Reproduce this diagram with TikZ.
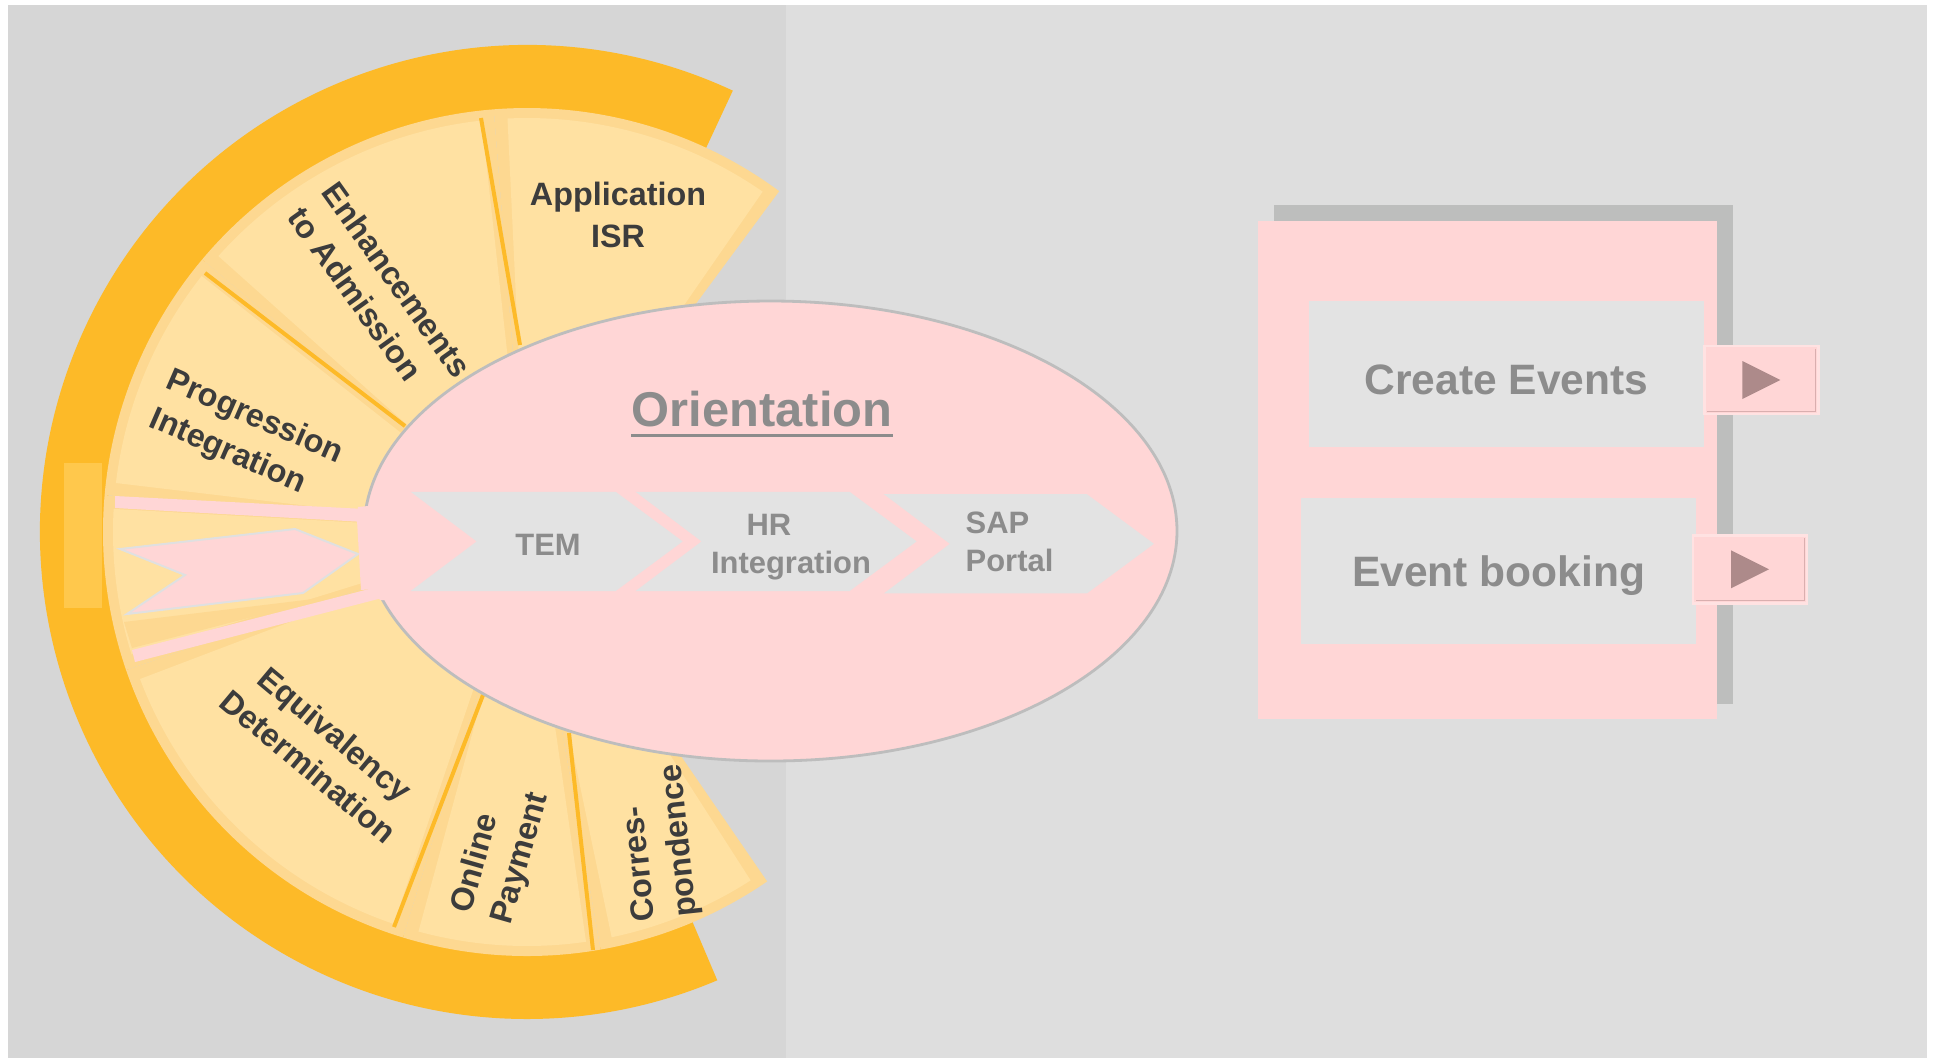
\documentclass[tikz,border=0pt]{standalone}
\usepackage{fontspec}
\setmainfont{Liberation Sans}

\definecolor{ringorange}{HTML}{FDBA28}
\definecolor{ringlight}{HTML}{FFC84C}
\definecolor{wedgeedge}{HTML}{FDD891}
\definecolor{wedgefill}{HTML}{FFE1A2}
\definecolor{rosefill}{HTML}{FFD6D6}
\definecolor{flagrim}{HTML}{E0E0E0}
\definecolor{chevgray}{HTML}{E3E3E3}
\definecolor{textgray}{HTML}{8C8C8C}
\definecolor{textdark}{HTML}{3C3C3C}
\definecolor{bgleft}{HTML}{D6D6D6}
\definecolor{bgright}{HTML}{DEDEDE}
\definecolor{shadowgray}{HTML}{BDBEBD}
\definecolor{rimgray}{HTML}{BDBDBD}
\definecolor{btnlight}{HTML}{FFE2E2}
\definecolor{btndark}{HTML}{D9AFAF}
\definecolor{tipbrown}{HTML}{AD8A8A}

\begin{document}
\begin{tikzpicture}[x=0.1mm, y=0.1mm,
        wedgelabel/.style = {text = textdark, font = \bfseries\fontsize{9.2}{12}\selectfont, inner sep = 0pt},
        chevlabel/.style = {text = textgray, font = \bfseries\fontsize{8.8}{11}\selectfont, inner sep = 0pt},
        seam/.style = {draw = ringorange, line width = 0.4mm},
        chev/.style = {fill = chevgray},
        flag/.style = {fill = rosefill, draw = flagrim, line width = 0.2mm},
        oval/.style = {fill = rosefill, draw = rimgray, line width = 0.28mm},
        evbox/.style = {fill = chevgray, minimum width = 39.5mm, minimum height = 14.6mm, inner sep = 0pt,
                        text height = 3.1mm, text depth = 0pt,
                        text = textgray, font = \bfseries\fontsize{12.1}{14}\selectfont},
        btn/.style = {fill = rosefill, draw = btnlight, line width = 0.25mm, minimum width = 11.4mm,
                      minimum height = 6.8mm, inner sep = 0pt},
        btnrim/.style = {draw = btndark, line width = 0.12mm},
        tip/.style = {fill = tipbrown}]
    \useasboundingbox (0,0) rectangle (1937,-1060);

    % background panels
    \fill[white] (0,0) rectangle (1937,-1060);
    \fill[bgleft] (8,-5) rectangle (786,-1058);
    \fill[bgright] (786,-5) rectangle (1927,-1058);

    % outer ring
    \coordinate (hub) at (527,-532);
    \fill[ringorange] (hub) ++(65:487) arc[start angle = 65, end angle = 293, radius = 487]
        -- ++(113:67) arc[start angle = 293, end angle = 65, radius = 420] -- cycle;
    \fill[ringlight] (64,-463) rectangle (102,-608);

    % wedges of the wheel
    \foreach \a/\b in {53.5/94.5, 94.5/140, 140/175, 175/199, 199/253, 253/280, 280/304.5} {
        \fill[wedgeedge] (hub) -- ++(\a:424) arc[start angle = \a, end angle = \b, radius = 424] -- cycle;
        \fill[wedgefill] (hub) -- ++({\a + 1.8}:414) arc[start angle = \a + 1.8, end angle = \b - 1.8, radius = 414] -- cycle;
    }
    \fill[wedgeedge] (124,-622) -- (330,-597) -- (132,-648) -- cycle;

    % seams between wedges
    \draw[seam] (481,-118) -- (520,-345);
    \draw[seam] (205,-273) -- (405,-426);
    \draw[seam] (483,-695) -- (394,-927);
    \draw[seam] (569,-733) -- (593,-950);

    % highlighted orientation segment
    \fill[rosefill] (115,-496) -- (365,-509) -- (365,-522) -- (115,-508) -- cycle;
    \fill[rosefill] (132,-650) -- (373,-588) -- (382,-598) -- (135,-662) -- cycle;
    \filldraw[flag] (120,-549) -- (295,-529) -- (358,-554) -- (303,-593) -- (127,-614) -- (185,-575) -- cycle;

    % orientation ellipse
    \filldraw[oval] (770.5,-531) ellipse[x radius = 406.5, y radius = 230];
    \fill[rosefill] (357,-520) -- (358,-507) -- (378,-505) -- (392,-600) -- (380,-600) -- (373,-589) -- (361,-590) -- cycle;

    \node[text = textgray, font = \bfseries\fontsize{13.9}{16}\selectfont, inner sep = 0pt] (orient) at (762,-409) {Orientation};
    \draw[textgray, line width = 0.3mm] ([yshift = -0.8mm]orient.south west) -- ([yshift = -0.8mm]orient.south east);

    \foreach \x/\w/\y in {410.7/205/541.4, 635.6/214/541.4, 883.9/203/543.8} {
        \fill[chev] (\x,-\y) ++(0,49.6) -- ++(\w,0) -- ++(67,-49.6) -- ++(-67,-49.6) -- ++(-\w,0) -- ++(66,49.6) -- cycle;
    }
    \node[chevlabel] (temText) at (548,-545) {TEM};
    \node[chevlabel, align = center] (hrText) at (791,-547) {HR\kern4.4mm\\Integration};
    \node[chevlabel, align = left, anchor = west] (sapText) at (965,-542) {SAP\\Portal};

    % wedge labels
    \node[wedgelabel, align = center] (appText) at (618,-215) {Application\\ISR};
    \node[wedgelabel, align = left, rotate = -54.5] (enhText) at (380,-292) {Enhancements\\to Admission};
    \node[wedgelabel, align = left, rotate = -23.5] (progText) at (246,-437) {Progression\\Integration};
    \node[wedgelabel, align = center, rotate = -40] (equivText) at (322,-750) {Equivalency\\Determination};
    \node[wedgelabel, align = left, rotate = 74] (payText) at (501,-853) {Online\\Payment};
    \node[wedgelabel, align = left, rotate = 96] (corrText) at (660,-843) {Corres-\\pondence};

    % event panel
    \fill[shadowgray] (1274,-205) rectangle (1733,-704);
    \fill[rosefill] (1258,-221) rectangle (1717,-719);
    \node[evbox, text height = 4mm] (createBox) at (1506.5,-374) {Create Events};
    \node[evbox] (bookingBox) at (1498.5,-571) {Event booking};
    \node[btn] (createBtn) at (1761.4,-380) {};
    \node[btn] (bookingBtn) at (1750,-569.3) {};
    \foreach \b in {createBtn, bookingBtn} {
        \draw[btnrim] ([xshift = -0.4mm, yshift = -0.4mm]\b.north east) -- ([xshift = -0.4mm, yshift = 0.4mm]\b.south east)
            -- ([xshift = 0.4mm, yshift = 0.4mm]\b.south west);
        \fill[tip] (\b.center) ++(-19,19) -- ++(38,-19) -- ++(-38,-19) -- cycle;
    }
\end{tikzpicture}
\end{document}
